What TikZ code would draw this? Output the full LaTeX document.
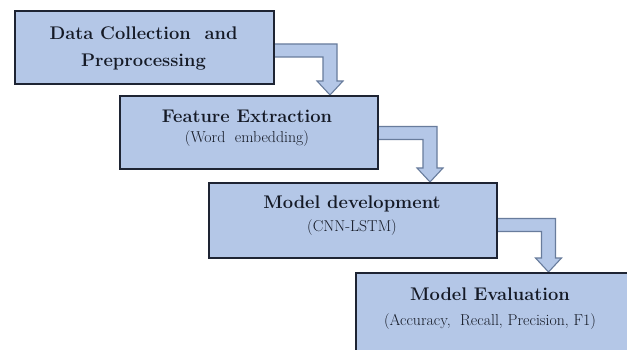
\documentclass[tikz,border=0pt]{standalone}
\usetikzlibrary{calc}
\definecolor{boxfill}{HTML}{B4C7E7}
\definecolor{boxline}{HTML}{1E2433}
\definecolor{arrline}{HTML}{687C9C}
\definecolor{inktext}{HTML}{151A26}
\newcommand\elbowarrow[3]{%
  \path[flowarrow] let \p1=(#1), \p2=(#2), \p3=(#3) in
    (\x1-3pt,\y2+6.5pt) -- (\x2+7pt,\y2+6.5pt) -- (\x2+7pt,\y3+14pt) -- (\x2+13pt,\y3+14pt)
    -- (\x2,\y3) -- (\x2-13pt,\y3+14pt) -- (\x2-7pt,\y3+14pt) -- (\x2-7pt,\y2-6.5pt)
    -- (\x1-3pt,\y2-6.5pt) -- cycle;}
\begin{document}
\begin{tikzpicture}[x=1pt,y=-1pt,
  stagebox/.style={draw=boxline, line width=1.6pt, fill=boxfill, inner sep=0pt, anchor=north west},
  flowarrow/.style={draw=arrline, line width=1.1pt, fill=boxfill, line join=miter},
  titletext/.style={anchor=base, font=\rmfamily\fontsize{18.3}{22}\selectfont\bfseries, text=inktext},
  subtext/.style={anchor=base, font=\rmfamily\fontsize{15.8}{19}\selectfont, text=inktext}]
\useasboundingbox (0,0) rectangle (627,350);
\clip (0,0) rectangle (627,350);
\fill[white] (0,0) rectangle (627,350);

\path (14,10) coordinate (p1) (119,95) coordinate (p2) (208,182) coordinate (p3) (355,272) coordinate (p4);
\node[stagebox, minimum width=259pt, minimum height=73pt, draw=none, fill=none] (g1) at (p1) {};
\node[stagebox, minimum width=258pt, minimum height=73pt, draw=none, fill=none] (g2) at (p2) {};
\node[stagebox, minimum width=288pt, minimum height=75pt, draw=none, fill=none] (g3) at (p3) {};
\node[stagebox, minimum width=290pt, minimum height=90pt, draw=none, fill=none] (g4) at (p4) {};

\coordinate (k1) at (330,50.5);
\coordinate (k2) at (430,133);
\coordinate (k3) at (548.5,225);

\elbowarrow{g1.east}{k1}{k1 |- g2.north}
\elbowarrow{g2.east}{k2}{k2 |- g3.north}
\elbowarrow{g3.east}{k3}{k3 |- g4.north}

\node[stagebox, minimum width=259pt, minimum height=73pt] (b1) at (p1) {};
\node[stagebox, minimum width=258pt, minimum height=73pt] (b2) at (p2) {};
\node[stagebox, minimum width=288pt, minimum height=75pt] (b3) at (p3) {};
\node[stagebox, minimum width=290pt, minimum height=90pt] (b4) at (p4) {};

\node[titletext] (t1a) at (143.5,40) {Data Collection~ and};
\node[titletext] (t1b) at (143.5,67) {Preprocessing};
\node[titletext] (t2a) at (247,123) {Feature Extraction};
\node[subtext] (t2b) at (247,143) {(Word~ embedding)};
\node[titletext] (t3a) at (352,208) {Model development};
\node[subtext] (t3b) at (352,232) {(CNN-LSTM)};
\node[titletext] (t4a) at (490,300) {Model Evaluation};
\node[subtext] (t4b) at (490,325) {(Accuracy,~ Recall, Precision, F1)};
\end{tikzpicture}
\end{document}
